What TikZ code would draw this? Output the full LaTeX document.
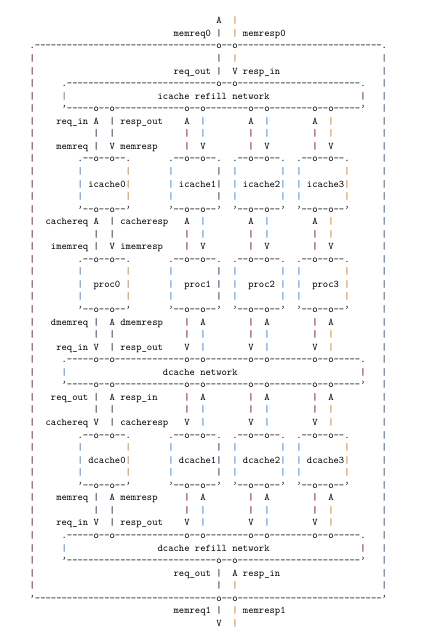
\documentclass[tikz,border=0pt]{standalone}

\definecolor{barred}{HTML}{7A1010}
\definecolor{barblue}{HTML}{2F7FD0}
\definecolor{barnavy}{HTML}{1A2A5A}
\definecolor{barorange}{HTML}{D07A1A}
\definecolor{barsteel}{HTML}{1E4F86}

% one cell of the text grid: [style]{column}{row}{text}
\newcommand\asc[4][ch]{%
  \node[#1] (n#3x#2) at ({29.63+5.333*(#2)},{-23.8-12.554*((#3)-1)}) {#4};}
% hyphens one by one, so that no ligature forms
\newcommand\dashes[1]{\foreach\kk in {1,...,#1}{\hbox{-}}}
\newcommand\cnr{\textquoteright}
% lower/upper edge of a network box with four port pairs
\newcommand\netedge[3]{\asc{6}{#1}{#2\dashes{5}o\dashes{2}o\dashes{13}o\dashes{2}o\dashes{8}o\dashes{2}o\dashes{8}o\dashes{2}o\dashes{5}#3}}

\begin{document}
\begin{tikzpicture}[x=1pt, y=1pt,
  ch/.style={font=\ttfamily\fontsize{10.16}{12.5}\selectfont,
             inner sep=0pt, outer sep=0pt, anchor=base west},
  lab/.style={ch, anchor=base east},
  vb/.style={ch, font=\ttfamily\bfseries\fontsize{10.16}{12.5}\selectfont, text=#1}
]
\useasboundingbox (0,0) rectangle (423,-641);

% ---- memory port 0 ----
\asc{35}{1}{A}
\asc{27}{2}{memreq0}
\asc{40}{2}{memresp0}
\foreach \r in {1,2,4} {\asc[vb=barorange]{38}{\r}{|}}
\foreach \r in {2,4,5} {\asc[vb=barnavy]{35}{\r}{|}}
\asc{27}{5}{req\_out}
\asc{38}{5}{V resp\_in}

% ---- outer box ----
\asc{0}{3}{.\dashes{34}o\dashes{2}o\dashes{27}.}
\asc{0}{47}{\cnr\dashes{34}o\dashes{2}o\dashes{27}\cnr}
\foreach \r in {4,...,46} {
  \asc[vb=barred]{0}{\r}{|}
  \asc[vb=barsteel]{66}{\r}{|}
}

% ---- networks ----
\asc{6}{6}{.\dashes{28}o\dashes{2}o\dashes{23}.}
\netedge{8}{\cnr}{\cnr}
\netedge{28}{.}{.}
\netedge{30}{\cnr}{\cnr}
\netedge{42}{.}{.}
\asc{6}{44}{\cnr\dashes{28}o\dashes{2}o\dashes{23}\cnr}
\foreach \r/\t/\lc in {7/icache refill network/24, 29/dcache network/25,
                       43/dcache refill network/24} {
  \asc[vb=barblue]{6}{\r}{|}
  \asc{\lc}{\r}{\t}
  \asc[vb=barred]{62}{\r}{|}
}

% ---- port pairs between networks and boxes ----
\foreach \p/\q/\cp/\cq in {12/15/barnavy/barnavy, 29/32/barred/barblue,
                           41/44/barred/barblue, 53/56/barred/barorange} {
  \foreach \r in {10,11,18,19,25,26,31,32,39,40} {\asc[vb=\cp]{\p}{\r}{|}}
  \foreach \r in {9,10,17,18,26,27,32,33,40,41} {\asc[vb=\cq]{\q}{\r}{|}}
  \foreach \r/\g in {9/A,17/A,27/V,33/V,41/V} {\asc{\p}{\r}{\g}}
  \foreach \r/\g in {11/V,19/V,25/A,31/A,39/A} {\asc{\q}{\r}{\g}}
}
\foreach \r/\ll/\rl in {9/req\_in/resp\_out, 11/memreq/memresp,
    17/cachereq/cacheresp, 19/imemreq/imemresp, 25/dmemreq/dmemresp,
    27/req\_in/resp\_out, 31/req\_out/resp\_in, 33/cachereq/cacheresp,
    39/memreq/memresp, 41/req\_in/resp\_out} {
  \asc[lab]{11}{\r}{\ll}
  \asc{17}{\r}{\rl}
}

% ---- caches and processors ----
\foreach \br/\lbl/\off in {12/icache/2, 20/proc/3, 34/dcache/2} {
  \foreach \bx/\rcol [count=\i from 0] in {9/barorange, 26/barnavy, 38/barblue, 50/barorange} {
    \pgfmathtruncatemacro\rt{\bx+9}
    \pgfmathtruncatemacro\lx{\bx+\off}
    \pgfmathtruncatemacro\ra{\br+1}
    \pgfmathtruncatemacro\rb{\br+2}
    \pgfmathtruncatemacro\rm{\br+3}
    \pgfmathtruncatemacro\rd{\br+4}
    \asc{\bx}{\br}{.\dashes{2}o\dashes{2}o\dashes{2}.}
    \foreach \r in {\ra,\rb,\rm} {
      \asc[vb=barblue]{\bx}{\r}{|}
      \asc[vb=\rcol]{\rt}{\r}{|}
    }
    \asc{\lx}{\rb}{\lbl\i}
    \asc{\bx}{\rd}{\cnr\dashes{2}o\dashes{2}o\dashes{2}\cnr}
  }
}

% ---- memory port 1 ----
\asc{27}{45}{req\_out}
\asc{38}{45}{A resp\_in}
\foreach \r in {45,46,48} {\asc[vb=barnavy]{35}{\r}{|}}
\foreach \r in {46,48,49} {\asc[vb=barorange]{38}{\r}{|}}
\asc{27}{48}{memreq1}
\asc{40}{48}{memresp1}
\asc{35}{49}{V}

\end{tikzpicture}
\end{document}
